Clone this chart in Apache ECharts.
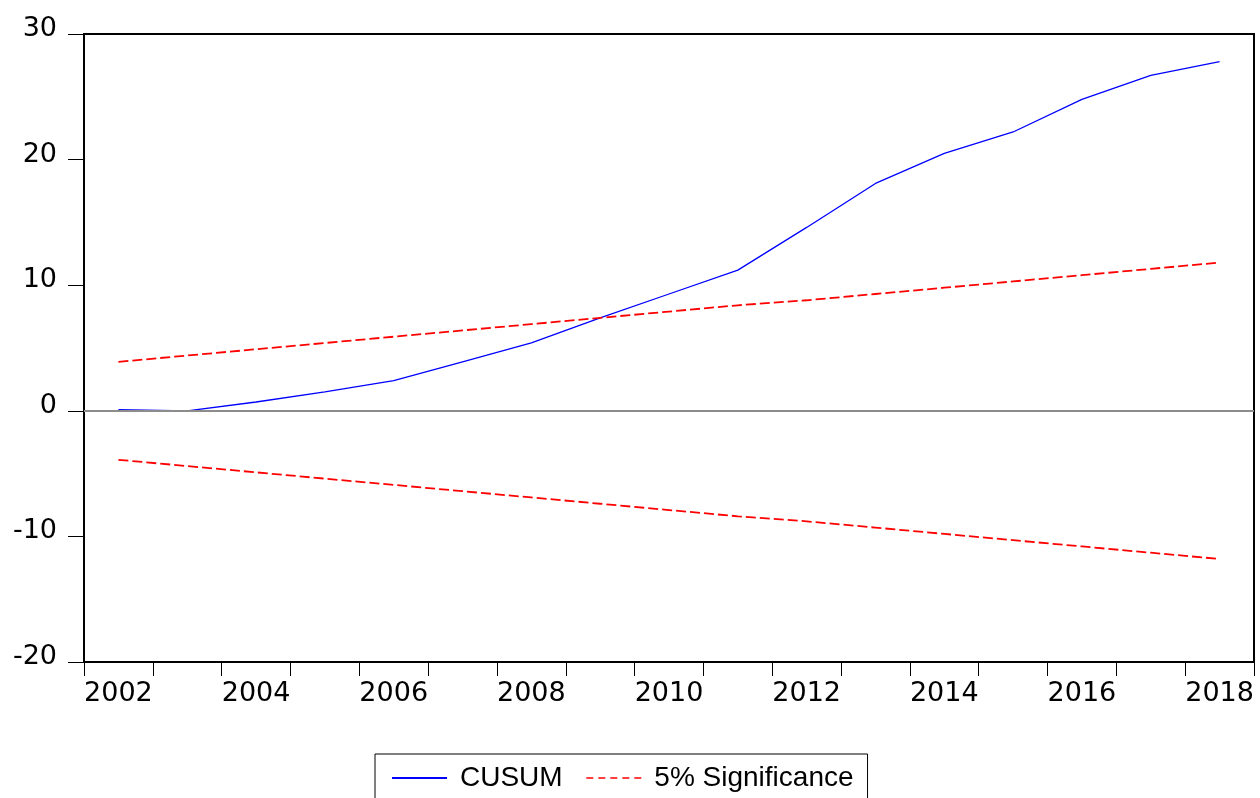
<!DOCTYPE html>
<html>
<head>
<meta charset="utf-8">
<title>CUSUM</title>
<script src="https://cdn.jsdelivr.net/npm/echarts@6/dist/echarts.min.js"></script>
<style>
html, body { margin: 0; padding: 0; background: #fff; }
#chart { width: 1260px; height: 798px; }
</style>
</head>
<body>
<div id="chart"></div>
<script>
var years = ['2002','2003','2004','2005','2006','2007','2008','2009','2010',
             '2011','2012','2013','2014','2015','2016','2017','2018'];
var cusum = [0.1, 0.0, 0.7, 1.5, 2.4, 3.9, 5.4, 7.4, 9.3,
             11.2, 14.6, 18.1, 20.5, 22.2, 24.8, 26.7, 27.8];
var upper = [3.9, 4.4, 4.9, 5.4, 5.9, 6.4, 6.9, 7.4, 7.9,
             8.4, 8.8, 9.3, 9.8, 10.3, 10.8, 11.3, 11.8];
var lower = [-3.9, -4.4, -4.9, -5.4, -5.9, -6.4, -6.9, -7.4, -7.9,
             -8.4, -8.8, -9.3, -9.8, -10.3, -10.8, -11.3, -11.8];

var axisFont = 'DejaVu Sans';
var legendFont = 'Liberation Sans';
var chart = echarts.init(document.getElementById('chart'));

var option = {
	animation: false,
	grid: {
		left: 84, right: 6, top: 34, bottom: 136,
		show: true,
		borderColor: '#000',
		borderWidth: 2
	},
	legend: {
		left: 375,
		top: 754,
		padding: [10, 14, 30, 16],
		borderColor: '#000',
		borderWidth: 1,
		itemWidth: 55,
		itemHeight: 14,
		itemGap: 23,
		itemStyle: { opacity: 0 },
		textStyle: { fontFamily: legendFont, fontSize: 28, color: '#000', padding: [0, 0, 0, 8] },
		data: [
			{ name: 'CUSUM' },
			{ name: '5% Significance', lineStyle: { type: [7, 5], width: 1.3 } }
		]
	},
	xAxis: {
		type: 'category',
		data: years,
		boundaryGap: true,
		axisLine: { onZero: false, lineStyle: { color: '#000', width: 2 } },
		axisTick: { show: true, interval: 0, length: 14, lineStyle: { color: '#000', width: 1 } },
		axisLabel: { interval: 1, margin: 18, fontFamily: axisFont, fontSize: 27, color: '#000' },
		splitLine: { show: false }
	},
	yAxis: {
		type: 'value',
		min: -20, max: 30, interval: 10,
		axisLine: { show: true, lineStyle: { color: '#000', width: 2 } },
		axisTick: { show: true, length: 16, lineStyle: { color: '#000', width: 1 } },
		axisLabel: {
			margin: 27, fontFamily: axisFont, fontSize: 27, color: '#000',
			verticalAlign: 'bottom', lineHeight: 10
		},
		splitLine: { show: false }
	},
	series: [
		{
			name: 'CUSUM',
			type: 'line',
			symbol: 'none',
			data: cusum,
			z: 3,
			lineStyle: { color: '#0000ff', width: 1.3 },
			itemStyle: { color: '#0000ff' },
			markLine: {
				silent: true,
				symbol: 'none',
				label: { show: false },
				lineStyle: { color: '#8c8c8c', width: 1.8, type: 'solid' },
				data: [{ yAxis: 0 }]
			}
		},
		{
			name: '5% Significance',
			type: 'line',
			symbol: 'none',
			data: upper,
			lineStyle: { color: '#ff0000', width: 1.8, type: [10, 4] },
			itemStyle: { color: '#ff0000' }
		},
		{
			name: '5% Significance',
			type: 'line',
			symbol: 'none',
			data: lower,
			lineStyle: { color: '#ff0000', width: 1.8, type: [10, 4] },
			itemStyle: { color: '#ff0000' }
		}
	]
};

chart.setOption(option);
</script>
</body>
</html>
